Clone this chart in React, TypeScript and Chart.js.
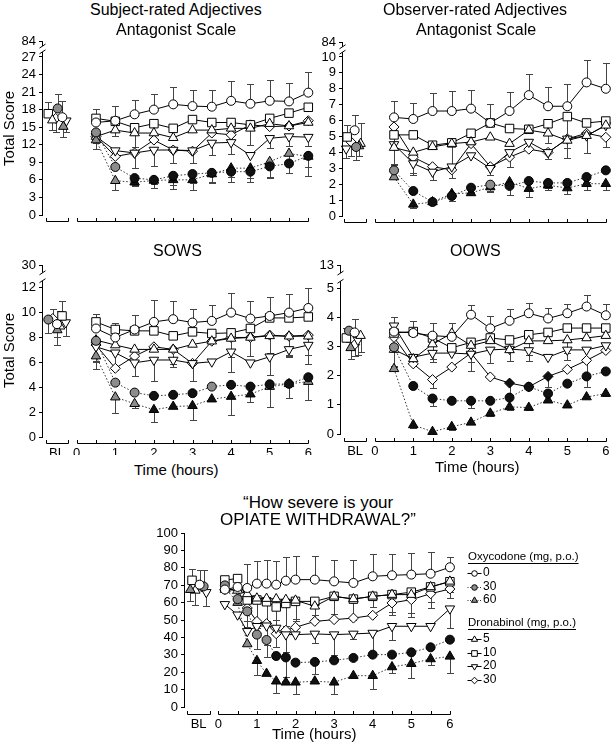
import React, { useEffect, useRef } from 'react';
import { Chart, registerables } from 'chart.js';

Chart.register(...registerables);

const FONT = '"Liberation Sans", Arial, Helvetica, sans-serif';
Chart.defaults.font.family = FONT;
Chart.defaults.color = '#000';

// ---------------- data ----------------
const SERIES_LABELS = ['Oxycodone 0', 'Oxycodone 30', 'Oxycodone 60', 'Dronabinol 5', 'Dronabinol 10', 'Dronabinol 20', 'Dronabinol 30'];
const OXY_DOSES = ['0', '30', '60'];
const DRON_DOSES = ['5', '10', '20', '30'];

const TIMES = [0.5, 1, 1.5, 2, 2.5, 3, 3.5, 4, 4.5, 5, 5.5, 6];
const WD_TIMES = [0.17, 0.5, 0.75, 1, 1.25, 1.5, 1.75, 2, 2.5, 3, 3.5, 4, 4.5, 5, 5.5, 6];

// Subject-rated adjectives, antagonist scale
const subjBL = [16.7, 18.2, 15.1, 16.2, 17.3, 16.1, 16.5];
const subjBLErr = [2.7, 2.4, -1.8, -1.7, 2.0, -2.0, -2.3];
const subjValues = [
  [15.8, 16.1, 17.2, 18.0, 18.9, 18.6, 18.5, 19.5, 19.0, 19.5, 19.4, 20.9],
  [14.1, 8.2, 6.3, 6.0, 6.7, 7.0, 7.2, 7.4, 7.4, 8.3, 8.8, 10.1],
  [12.8, 5.85, 5.6, 5.9, 6.0, 6.0, 7.0, 8.0, 8.0, 9.1, 10.5, 10.0],
  [13.4, 14.5, 14.0, 14.0, 13.2, 14.5, 14.5, 14.8, 14.8, 15.6, 15.2, 15.8],
  [16.5, 16.0, 14.9, 15.6, 14.8, 16.3, 15.8, 15.8, 15.4, 16.5, 17.4, 18.4],
  [13.4, 11.0, 10.6, 11.1, 11.1, 11.0, 12.3, 12.4, 10.2, 13.1, 13.4, 13.3],
  [13.4, 10.0, 10.6, 12.8, 11.1, 10.9, 14.0, 13.7, 15.4, 15.1, 15.2, 16.1],
];
const subjErrors = [
  [2.3, 2.5, 2.5, 2.6, 2.9, 2.8, 2.9, 3.4, 3.3, 3.5, 3.2, 3.5],
  [-1.8, null, -1.4, -1.4, -1.6, -1.6, -1.6, -1.8, -1.8, -1.8, -1.6, -3.4],
  [-1.5, -1.6, -0.5, -0.6, -1.6, -1.7, -1.5, -1.5, -1.6, -2.8, -1.3, -1.8],
  [null, -1.0, -2.3, null, null, null, null, null, -2.8, null, null, null],
  [1.6, null, null, null, null, null, null, null, null, null, null, null],
  [-2.2, null, -2.5, -2.7, -2.2, -2.2, -2.0, -2.0, null, -1.6, -1.6, -1.5],
  [null, null, null, null, null, null, null, null, null, null, null, null],
];
const subjSig = [null, [0, 0, 1, 1, 1, 1, 1, 1, 1, 1, 1, 1], [0, 0, 1, 1, 1, 1, 1, 1, 1, 0, 0, 0], null, null, null, null];

// Observer-rated adjectives, antagonist scale
const obsBL = [5.39, 4.34, 4.4, 4.55, 4.97, 4.23, 4.65];
const obsBLErr = [0.95, -0.8, -0.6, 1.3, 0.75, -0.6, -0.9];
const obsValues = [
  [6.2, 6.1, 6.6, 6.6, 6.75, 5.85, 6.6, 7.6, 6.9, 6.9, 8.4, 8.0],
  [2.87, 1.57, 0.88, 1.26, 1.78, 1.97, 1.89, 2.2, 2.08, 2.08, 2.45, 2.87],
  [2.45, 0.73, 0.88, 1.4, 1.45, 1.82, 2.14, 1.72, 1.93, 1.76, 2.03, 2.03],
  [4.3, 4.0, 4.35, 4.55, 4.65, 4.95, 4.55, 5.4, 5.2, 4.75, 5.05, 5.7],
  [5.1, 5.1, 4.45, 4.6, 5.2, 5.85, 5.5, 5.45, 5.8, 6.25, 5.85, 5.97],
  [4.5, 3.3, 2.77, 3.1, 3.8, 3.0, 4.0, 4.65, 4.0, 4.85, 5.05, 5.7],
  [5.6, 3.7, 3.1, 2.9, 4.55, 3.1, 3.7, 4.2, 4.0, 4.85, 5.2, 4.95],
];
const obsErrors = [
  [1.0, 1.0, 1.15, 1.25, 1.2, 1.2, 1.2, 1.3, 1.2, 1.4, 1.4, 1.6],
  [null, null, null, -0.3, -0.3, -0.4, -0.6, -0.5, -0.3, null, -0.3, null],
  [null, -0.2, null, null, null, -0.3, -0.3, -0.5, -0.3, -0.4, -0.4, -0.4],
  [-1.1, -1.3, null, null, null, null, null, null, -0.6, -1.1, null, null],
  [-1.8, null, null, -1.55, null, null, null, null, null, -1.95, null, null],
  [null, -0.7, -0.5, -0.7, null, -0.4, null, null, -0.4, null, -1.1, null],
  [null, null, null, null, null, null, -0.6, null, null, null, null, -0.6],
];
const obsSig = [null, [0, 1, 1, 1, 1, 0, 1, 1, 1, 1, 1, 1], [0, 1, 1, 1, 1, 1, 1, 1, 1, 1, 1, 1], null, null, null, null];

// SOWS
const sowsBL = [9.07, 9.44, 8.6, 8.9, 9.73, 9.2, 9.52];
const sowsBLErr = [-1.0, -1.1, -1.2, 1.2, 1.2, -1.1, 0.8];
const sowsValues = [
  [8.72, 8.0, 8.64, 9.25, 9.47, 9.2, 9.33, 10.0, 9.52, 9.73, 10.0, 10.37],
  [7.73, 4.37, 3.57, 3.31, 3.39, 3.52, 4.05, 4.19, 4.05, 4.24, 4.27, 4.8],
  [6.5, 3.2, 2.67, 2.19, 2.45, 2.51, 3.04, 3.25, 3.44, 4.05, 4.27, 4.45],
  [7.79, 7.39, 7.04, 7.04, 7.04, 7.44, 7.7, 7.92, 8.0, 8.13, 8.1, 8.1],
  [9.25, 8.64, 8.53, 8.53, 8.13, 8.45, 8.32, 8.37, 8.72, 9.57, 9.57, 9.65],
  [7.25, 6.77, 5.97, 6.19, 6.19, 5.92, 6.05, 6.85, 5.97, 6.45, 7.04, 7.39],
  [7.39, 5.52, 6.5, 7.25, 7.04, 5.92, 7.7, 8.0, 8.0, 8.19, 8.1, 8.19],
];
const sowsErrors = [
  [null, null, null, 1.75, 1.45, 1.05, 1.3, 1.57, 1.45, 1.55, 1.5, 1.6],
  [null, null, null, null, null, null, null, null, null, null, -1.1, null],
  [-1.0, -1.28, -0.3, -1.02, null, -1.12, null, -1.46, -0.6, -1.6, null, -1.5],
  [null, null, -2.1, null, null, null, null, null, null, null, -1.5, null],
  [0.62, 0.53, 1.3, null, null, null, null, null, null, null, null, null],
  [-1.2, -1.4, null, -1.7, -0.6, -1.4, null, -1.6, null, -1.5, -0.6, -1.5],
  [-1.3, null, -1.6, null, -1.2, null, null, -1.6, -1.5, -1.4, -1.6, -1.6],
];
const sowsSig = [null, [0, 0, 0, 1, 1, 1, 0, 1, 1, 1, 1, 1], [0, 0, 0, 1, 1, 1, 1, 1, 1, 0, 0, 0], null, null, null, null];

// OOWS
const oowsBL = [3.49, 3.55, 2.96, 3.38, 3.3, 3.23, 3.07];
const oowsBLErr = [0.45, -0.4, -0.38, -0.55, 0.35, -0.5, -0.4];
const oowsValues = [
  [3.52, 3.47, 3.38, 3.34, 4.1, 3.63, 3.89, 4.15, 3.97, 4.15, 4.38, 4.08],
  [2.98, 1.65, 1.22, 1.14, 1.14, 1.14, 1.25, 1.62, 1.39, 1.73, 1.98, 2.15],
  [2.24, 0.31, 0.08, 0.25, 0.4, 0.71, 0.93, 0.91, 1.16, 0.99, 1.27, 1.39],
  [2.9, 2.58, 3.09, 3.46, 3.04, 3.2, 2.89, 3.2, 3.2, 3.23, 3.3, 3.38],
  [3.47, 3.52, 3.3, 2.96, 3.15, 3.3, 3.23, 3.41, 3.49, 3.64, 3.64, 3.64],
  [3.72, 2.64, 2.78, 2.78, 2.75, 2.89, 2.92, 2.87, 2.64, 2.89, 2.89, 3.04],
  [3.32, 2.41, 1.87, 2.3, 2.78, 1.96, 1.75, 1.62, 1.98, 2.22, 2.53, 2.87],
];
const oowsErrors = [
  [0.51, 0.43, 0.45, 0.46, 0.34, 0.42, 0.39, 0.34, 0.35, 0.33, 0.39, 0.4],
  [-0.65, null, -0.25, null, -0.25, null, null, null, -0.3, null, -0.35, null],
  [null, -0.1, null, -0.1, null, -0.1, -0.1, -0.1, null, null, null, -0.1],
  [-0.6, null, -0.5, null, -0.55, null, null, -0.5, null, -0.45, null, null],
  [null, null, null, null, null, null, null, null, null, null, null, null],
  [null, null, -0.3, null, null, -0.45, -0.4, -0.35, null, -0.35, null, null],
  [null, null, -0.3, null, -0.6, null, -0.4, null, -0.35, null, -0.6, null],
];
const oowsSig = [null, [0, 1, 1, 1, 1, 1, 1, 1, 1, 1, 1, 1], [0, 1, 1, 1, 1, 1, 1, 1, 1, 1, 1, 1], null, null, null, [0, 0, 0, 0, 0, 0, 1, 1, 1, 0, 0, 0]];

// "How severe is your opiate withdrawal?"
const wdBL = [70.3, 69.3, 67.4, 67, 72.8, 65.9, 69];
const wdBLErr = [8.7, 9.7, -6.7, -8.2, 6.5, -8.1, null];
const wdValues = [
  [67.5, 69, 68.4, 70.9, 70.9, 70.3, 72.6, 73.2, 73.2, 72.2, 71.3, 75.1, 75.7, 76.1, 76.6, 80.3],
  [69.9, 62, 55, 41.6, 38.5, 29.3, 28.5, 25.5, 25.9, 26.8, 28.2, 30.1, 30.1, 31.4, 34.3, 38.7],
  [68.5, 60, 36.2, 26.6, 19.2, 14.8, 14.2, 14.2, 14.8, 14.2, 18, 18, 23, 24.9, 27.6, 29.1],
  [67.5, 67, 65, 62.5, 62.3, 62.1, 61.7, 61.3, 57.9, 63.6, 62.1, 63.6, 64.6, 64.6, 69, 72.2],
  [73, 73.8, 61.5, 61.5, 60.5, 57.5, 59.5, 60.7, 60.7, 63.6, 62, 63.6, 64.6, 66, 69, 72],
  [59, 53, 43.5, 46.4, 46.7, 45.4, 41.6, 41.6, 42, 41.6, 42, 42.5, 46.4, 46.4, 46.4, 56.5],
  [67.5, 67.5, 56.9, 49.2, 47.9, 42.1, 44.1, 45.8, 49.2, 50.2, 51.1, 52.7, 59.8, 61.7, 65.1, 67.8],
];
const wdErrors = [
  [null, null, 14, 13.2, 13.4, 13.4, 13.4, 13.4, 13.8, 12.5, 13.4, 12.8, 12.3, 12.4, 12.4, 6],
  [null, null, -9, -8, -10, null, -11, null, -7, null, null, null, null, -8, null, null],
  [null, null, null, -8, null, -7, null, -6.5, null, -6.5, null, -7.5, -3.5, -8.5, -3.5, -9.5],
  [null, null, null, null, -13, -12, -15, -12, -5, null, null, null, null, null, null, null],
  [null, null, -12, -16, -14, -16, -13, -10, -10, -10, -12, -6, -12, -12, -12, -6],
  [null, null, null, null, -11, -11, -10, null, -5, -12, -3, -11, -8, null, null, -11],
  [null, null, null, null, null, null, null, null, null, null, null, null, -5, -10, -5, -5],
];
const wdSig = [null, [0, 0, 0, 0, 0, 1, 1, 1, 1, 1, 1, 1, 1, 1, 1, 1], [0, 0, 0, 1, 1, 1, 1, 1, 1, 1, 1, 1, 1, 1, 1, 1], null, null, null, null];

// ---------------- styles ----------------
const SERIES_STYLE = [
  { style: 'circle', radius: 4.5, fill: '#ffffff', dotted: false, rot: 0 },
  { style: 'circle', radius: 4.5, fill: '#8c8c8c', dotted: true, rot: 0 },
  { style: 'triangle', radius: 5.5, fill: '#8c8c8c', dotted: true, rot: 0 },
  { style: 'triangle', radius: 5.5, fill: '#ffffff', dotted: false, rot: 0 },
  { style: 'rect', radius: 6, fill: '#ffffff', dotted: false, rot: 0 },
  { style: 'triangle', radius: 5.5, fill: '#ffffff', dotted: false, rot: 180 },
  { style: 'rectRot', radius: 5, fill: '#ffffff', dotted: false, rot: 0 },
];
const SIG_FILL = '#111111';
const BL_X = -0.51;
const BL_SEG = [-0.8, -0.22];

const PANELS = [
  {
    id: 'subj', box: { left: 0, top: 30, width: 318, height: 200 }, pad: { top: 11, bottom: 15, right: 8 },
    yWidth: 43, yTicks: [0, 3, 6, 9, 12, 15, 18, 21, 24, 27], yTop: 29.72, yTopLabel: '84',
    x0: 76.7, k: 38.6, xGap: 6, xLabels: false,
    times: TIMES, bl: subjBL, blErr: subjBLErr, values: subjValues, errors: subjErrors, sig: subjSig,
    blOffsets: [5.3, 0.7, 6.3, -4.7, -8.7, 9.3, -1.3],
  },
  {
    id: 'obs', box: { left: 300, top: 30, width: 315, height: 200 }, pad: { top: 12, bottom: 14, right: 5 },
    yWidth: 43, yTicks: [0, 1, 2, 3, 4, 5, 6, 7, 8, 9, 10], yTop: 10.94, yTopLabel: '84',
    x0: 375, k: 38.8, xGap: 6, xLabels: false,
    times: TIMES, bl: obsBL, blErr: obsBLErr, values: obsValues, errors: obsErrors, sig: obsSig,
    blOffsets: [-0.5, 1, 4, 5.5, -8, -9, -4],
  },
  {
    id: 'sows', box: { left: 0, top: 255, width: 318, height: 200 }, pad: { top: 10, bottom: 18, right: 8 },
    yWidth: 43, yTicks: [0, 2, 4, 6, 8, 10, 12], yTop: 13.76, yTopLabel: '30',
    x0: 76.7, k: 38.6, xGap: 6, xLabels: true,
    times: TIMES, bl: sowsBL, blErr: sowsBLErr, values: sowsValues, errors: sowsErrors, sig: sowsSig,
    blOffsets: [0, -8.7, 0.3, 3, 5, 8.7, -4.3],
  },
  {
    id: 'oows', box: { left: 298, top: 255, width: 317, height: 200 }, pad: { top: 10, bottom: 21, right: 5 },
    yWidth: 43, yTicks: [0, 1, 2, 3, 4, 5], yTop: 5.78, yTopLabel: '13',
    x0: 375, k: 38.8, xGap: 7, xLabels: true,
    times: TIMES, bl: oowsBL, blErr: oowsBLErr, values: oowsValues, errors: oowsErrors, sig: oowsSig,
    blOffsets: [-0.5, -6.2, -4.5, 5.5, -8.8, 2.8, -0.5],
  },
  {
    id: 'wd', box: { left: 140, top: 520, width: 475, height: 220 }, pad: { top: 13, bottom: 33, right: 160 },
    yWidth: 45, yTicks: [0, 10, 20, 30, 40, 50, 60, 70, 80, 90, 100], yTop: null, yTopLabel: null,
    x0: 218.3, k: 38.6, xGap: 7, xLabels: true, legend: true,
    times: WD_TIMES, bl: wdBL, blErr: wdBLErr, values: wdValues, errors: wdErrors, sig: wdSig,
    blOffsets: [1, 5, -8.3, -3.3, -6.6, 7.7, 3],
  },
];

const TEXTS = [
  { t: 'Subject-rated Adjectives', x: 176, y: 10, size: 16 },
  { t: 'Antagonist Scale', x: 176, y: 30, size: 16 },
  { t: 'Observer-rated Adjectives', x: 475, y: 10, size: 16 },
  { t: 'Antagonist Scale', x: 476, y: 30, size: 16 },
  { t: 'SOWS', x: 177, y: 251, size: 16 },
  { t: 'OOWS', x: 475, y: 251, size: 16 },
  { t: '\u201CHow severe is your', x: 318, y: 502, size: 17 },
  { t: 'OPIATE WITHDRAWAL?\u201D', x: 318, y: 519, size: 17 },
  { t: 'Total Score', x: 9, y: 128, size: 15, rot: true },
  { t: 'Total Score', x: 9, y: 350, size: 15, rot: true },
  { t: 'Time (hours)', x: 176, y: 469, size: 15 },
  { t: 'Time (hours)', x: 477, y: 466, size: 15 },
  { t: 'Time (hours)', x: 314, y: 733, size: 15 },
];

let measureCtx = null;
function textWidth(text, size) {
  if (!measureCtx) measureCtx = document.createElement('canvas').getContext('2d');
  measureCtx.font = `${size}px ${FONT}`;
  return measureCtx.measureText(text).width;
}

function drawMarker(ctx, style, x, y, r, rot, fill) {
  ctx.beginPath();
  if (style === 'circle') {
    ctx.arc(x, y, r, 0, Math.PI * 2);
  } else if (style === 'triangle') {
    const s = rot ? -1 : 1;
    ctx.moveTo(x, y - s * r);
    ctx.lineTo(x + r * 0.866, y + (s * r) / 2);
    ctx.lineTo(x - r * 0.866, y + (s * r) / 2);
    ctx.closePath();
  } else if (style === 'rect') {
    const h = r * Math.SQRT1_2;
    ctx.rect(x - h, y - h, 2 * h, 2 * h);
  } else {
    ctx.moveTo(x - r, y);
    ctx.lineTo(x, y - r);
    ctx.lineTo(x + r, y);
    ctx.lineTo(x, y + r);
    ctx.closePath();
  }
  ctx.fillStyle = fill;
  ctx.fill();
  ctx.strokeStyle = '#000';
  ctx.lineWidth = 1;
  ctx.stroke();
}

function buildDatasets(p) {
  return SERIES_LABELS.map((label, si) => {
    const st = SERIES_STYLE[si];
    const blX = BL_X + p.blOffsets[si] / p.k;
    const vals = p.values[si];
    const sig = p.sig[si];
    const data = [{ x: blX, y: p.bl[si] }, { x: -0.1, y: null }, ...p.times.map((t, i) => ({ x: t, y: vals[i] }))];
    const errs = [p.blErr[si], null, ...p.errors[si]];
    const fills = [st.fill, st.fill, ...vals.map((_, i) => (sig && sig[i] ? SIG_FILL : st.fill))];
    return {
      label,
      data,
      errs,
      borderColor: st.dotted ? '#333' : '#000',
      borderWidth: 1,
      borderDash: st.dotted ? [1.5, 2] : [],
      pointStyle: st.style,
      pointRotation: st.rot,
      pointRadius: st.radius,
      pointBackgroundColor: fills,
      pointBorderColor: '#000',
      pointBorderWidth: 1,
      fill: false,
      tension: 0,
      clip: false,
      spanGaps: false,
    };
  });
}

function makeConfig(p) {
  const caLeft = p.box.left + p.yWidth;
  const caRight = p.box.left + p.box.width - p.pad.right;
  const xMin = (caLeft - p.x0) / p.k;
  const xMax = (caRight - p.x0) / p.k;
  const hasBreak = p.yTop != null;
  const yMax = hasBreak ? p.yTop : p.yTicks[p.yTicks.length - 1];
  const tickVals = hasBreak ? [...p.yTicks, p.yTop] : p.yTicks;

  const decor = {
    id: 'decor_' + p.id,
    beforeDatasetsDraw(chart) {
      const ctx = chart.ctx;
      const ys = chart.scales.y;
      ctx.save();
      ctx.strokeStyle = '#444';
      ctx.lineWidth = 1;
      chart.data.datasets.forEach((ds, di) => {
        const meta = chart.getDatasetMeta(di);
        ds.errs.forEach((e, i) => {
          if (e == null) return;
          const raw = ds.data[i];
          const el = meta.data[i];
          if (!el || raw.y == null) return;
          const x = Math.round(el.x) + 0.5;
          const y2 = Math.round(ys.getPixelForValue(raw.y + e)) + 0.5;
          ctx.beginPath();
          ctx.moveTo(x, el.y);
          ctx.lineTo(x, y2);
          ctx.moveTo(x - 3.5, y2);
          ctx.lineTo(x + 3.5, y2);
          ctx.stroke();
        });
      });
      ctx.restore();
    },
    afterDraw(chart) {
      const ctx = chart.ctx;
      const ys = chart.scales.y;
      const xs = chart.scales.x;
      const ca = chart.chartArea;
      ctx.save();
      ctx.strokeStyle = '#000';
      ctx.lineWidth = 1;
      ctx.setLineDash([]);
      // y axis line (with break)
      const ax = ca.left - 0.5;
      const y0 = ys.getPixelForValue(0) + 1;
      ctx.beginPath();
      if (hasBreak) {
        const yLast = ys.getPixelForValue(p.yTicks[p.yTicks.length - 1]);
        const yT = ys.getPixelForValue(p.yTop);
        const gap = yLast - yT;
        const lowEnd = yLast - gap * 0.32;
        const upEnd = yT + gap * 0.32;
        ctx.moveTo(ax, y0);
        ctx.lineTo(ax, lowEnd);
        ctx.moveTo(ax, yT);
        ctx.lineTo(ax, upEnd);
        ctx.moveTo(ax - 3, lowEnd + 2);
        ctx.lineTo(ax + 3, lowEnd - 2);
        ctx.moveTo(ax - 3, upEnd + 2);
        ctx.lineTo(ax + 3, upEnd - 2);
      } else {
        ctx.moveTo(ax, y0);
        ctx.lineTo(ax, ys.getPixelForValue(yMax));
      }
      ctx.stroke();

      // x axis segments
      const axY = Math.round(ca.bottom + p.xGap) + 0.5;
      const px = (v) => xs.getPixelForValue(v);
      const tickUp = 3.5;
      ctx.beginPath();
      const bl0 = Math.round(px(BL_SEG[0])) + 0.5;
      const bl1 = Math.round(px(BL_SEG[1])) + 0.5;
      ctx.moveTo(bl0, axY);
      ctx.lineTo(bl1, axY);
      ctx.moveTo(bl0, axY);
      ctx.lineTo(bl0, axY - tickUp);
      ctx.moveTo(bl1, axY);
      ctx.lineTo(bl1, axY - tickUp);
      const t0 = Math.round(px(0)) + 0.5;
      const t6 = Math.round(px(6)) + 0.5;
      ctx.moveTo(t0, axY);
      ctx.lineTo(t6, axY);
      for (let h = 0; h <= 12; h++) {
        const tx = Math.round(px(h / 2)) + 0.5;
        ctx.moveTo(tx, axY);
        ctx.lineTo(tx, axY - tickUp);
      }
      ctx.stroke();

      if (p.xLabels) {
        ctx.fillStyle = '#000';
        ctx.font = `13px ${FONT}`;
        ctx.textAlign = 'center';
        ctx.textBaseline = 'middle';
        ctx.fillText('BL', px(BL_X), axY + 9.5);
        for (let h = 0; h <= 6; h++) ctx.fillText(String(h), px(h), axY + 9.5);
      }

      if (p.legend) {
        const ox = p.box.left;
        const oy = p.box.top;
        const groups = [
          { title: 'Oxycodone (mg, p.o.)', idx: [0, 1, 2], labels: OXY_DOSES, y: 557 },
          { title: 'Dronabinol (mg, p.o.)', idx: [3, 4, 5, 6], labels: DRON_DOSES, y: 623 },
        ];
        ctx.textAlign = 'left';
        ctx.textBaseline = 'middle';
        groups.forEach((g) => {
          const hx = 468 - ox;
          const hy = g.y - oy;
          ctx.font = `11.5px ${FONT}`;
          ctx.fillStyle = '#000';
          ctx.fillText(g.title, hx, hy);
          const w = ctx.measureText(g.title).width;
          ctx.beginPath();
          ctx.setLineDash([]);
          ctx.strokeStyle = '#000';
          ctx.moveTo(hx, Math.round(hy + 6) + 0.5);
          ctx.lineTo(hx + w, Math.round(hy + 6) + 0.5);
          ctx.stroke();
          ctx.font = `12px ${FONT}`;
          g.idx.forEach((si, j) => {
            const st = SERIES_STYLE[si];
            const iy = hy + 16 + j * 13.5;
            const mx = 474.5 - ox;
            ctx.beginPath();
            ctx.setLineDash(st.dotted ? [1, 1.5] : []);
            ctx.strokeStyle = st.dotted ? '#333' : '#000';
            ctx.moveTo(mx - 7, Math.round(iy) + 0.5);
            ctx.lineTo(mx + 7, Math.round(iy) + 0.5);
            ctx.stroke();
            ctx.setLineDash([]);
            const rr = st.style === 'circle' ? 2.8 : st.style === 'rect' ? 4 : st.style === 'triangle' ? 3.6 : 3.3;
            drawMarker(ctx, st.style, mx, Math.round(iy) + 0.5, rr, st.rot, st.fill);
            ctx.fillStyle = '#000';
            ctx.fillText(g.labels[j], 483 - ox, iy);
          });
        });
      }
      ctx.restore();
    },
  };

  return {
    type: 'line',
    data: { datasets: buildDatasets(p) },
    options: {
      animation: false,
      responsive: false,
      maintainAspectRatio: false,
      events: [],
      layout: { padding: { top: p.pad.top, bottom: p.pad.bottom, left: 0, right: p.pad.right } },
      plugins: { legend: { display: false }, tooltip: { enabled: false }, title: { display: false } },
      scales: {
        x: { type: 'linear', display: false, min: xMin, max: xMax },
        y: {
          type: 'linear',
          min: 0,
          max: yMax,
          afterFit: (scale) => {
            scale.width = p.yWidth;
          },
          afterBuildTicks: (scale) => {
            scale.ticks = tickVals.map((v) => ({ value: v }));
          },
          ticks: {
            autoSkip: false,
            padding: 3,
            color: '#000',
            font: { size: 13, family: FONT },
            callback: (v) => (hasBreak && Math.abs(v - p.yTop) < 1e-6 ? p.yTopLabel : String(v)),
          },
          grid: { display: true, drawOnChartArea: false, drawTicks: true, tickLength: 4, color: '#000', lineWidth: 1 },
          border: { display: false },
        },
      },
    },
    plugins: [decor],
  };
}

function Panel({ p }) {
  const ref = useRef(null);
  useEffect(() => {
    const chart = new Chart(ref.current, makeConfig(p));
    return () => chart.destroy();
  }, [p]);
  return (
    <canvas
      ref={ref}
      width={p.box.width}
      height={p.box.height}
      style={{ position: 'absolute', left: p.box.left, top: p.box.top, width: p.box.width, height: p.box.height }}
    />
  );
}

function Label({ tx }) {
  const w = Math.ceil(textWidth(tx.t, tx.size));
  const boxH = tx.rot ? 16 : Math.round(tx.size);
  let style;
  if (tx.rot) {
    const boxW = w % 2 === 0 ? w : w + 1;
    style = {
      position: 'absolute',
      left: Math.round(tx.x) - boxW / 2,
      top: Math.round(tx.y) - boxH / 2,
      width: boxW,
      height: boxH,
      transform: 'rotate(-90deg)',
      transformOrigin: '50% 50%',
    };
  } else {
    style = {
      position: 'absolute',
      left: Math.round(tx.x - w / 2),
      top: Math.round(tx.y - boxH / 2),
      height: boxH,
    };
  }
  return (
    <div style={{ ...style, fontSize: tx.size, lineHeight: `${boxH}px`, whiteSpace: 'nowrap', textAlign: 'left' }}>
      {tx.t}
    </div>
  );
}

export default function App() {
  return (
    <div style={{ position: 'absolute', left: 0, top: 0, width: 615, height: 750, background: '#fff', fontFamily: FONT, color: '#000', overflow: 'hidden' }}>
      {PANELS.map((p) => (
        <Panel key={p.id} p={p} />
      ))}
      {TEXTS.map((tx, i) => (
        <Label key={i} tx={tx} />
      ))}
    </div>
  );
}
